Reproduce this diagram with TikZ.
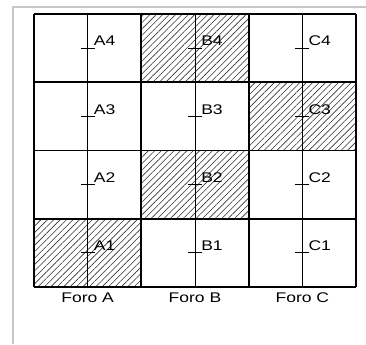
\documentclass[tikz,border=0pt]{standalone}
\usepackage{fontspec}
\newfontfamily\forofont[FakeStretch=1.25]{Liberation Sans}
\usetikzlibrary{patterns.meta}

\begin{document}
\begin{tikzpicture}[x=0.75pt,y=-0.75pt,font=\forofont\fontsize{10.5}{12}\selectfont,
  grid/.style={line width=1.4pt},
  axe/.style={line width=0.7pt},
  hatch/.style={pattern={Lines[angle=45,distance=3.4pt,line width=0.45pt]},pattern color=black!80}]
 \useasboundingbox (0,0) rectangle (366,344);
 \draw[black!22,line width=1.6pt] (13,344)--(13,7)--(366,7);
 % hatched cells
 \foreach \c/\r in {1/0,2/1,1/2,0/3}
   \fill[hatch] ({34+107.33*\c},{14+68.25*\r}) rectangle +(107.33,68.25);
 % cell borders
 \foreach \c in {0,...,3}
   \draw[grid] ({34+107.33*\c},14)--({34+107.33*\c},287);
 \foreach \r in {0,...,4}
   \draw[grid] (34,{14+68.25*\r})--(356,{14+68.25*\r});
 % boreholes
 \foreach \c/\f in {0/A,1/B,2/C}{
   \pgfmathsetmacro{\cx}{87.67+107.33*\c}
   \draw[axe] (\cx,14)--(\cx,287);
   \node (foro\f) at (\cx,298) {Foro \f};
   \foreach \r in {1,...,4}{
     \pgfmathsetmacro{\cy}{48.1+68.25*(4-\r)}
     \draw[axe] ({\cx-7},\cy)--({\cx+7},\cy);
     \node[anchor=west,inner sep=0] (\f\r) at ({\cx+6},{\cy-7}) {\f\r};
   }
 }
\end{tikzpicture}
\end{document}
